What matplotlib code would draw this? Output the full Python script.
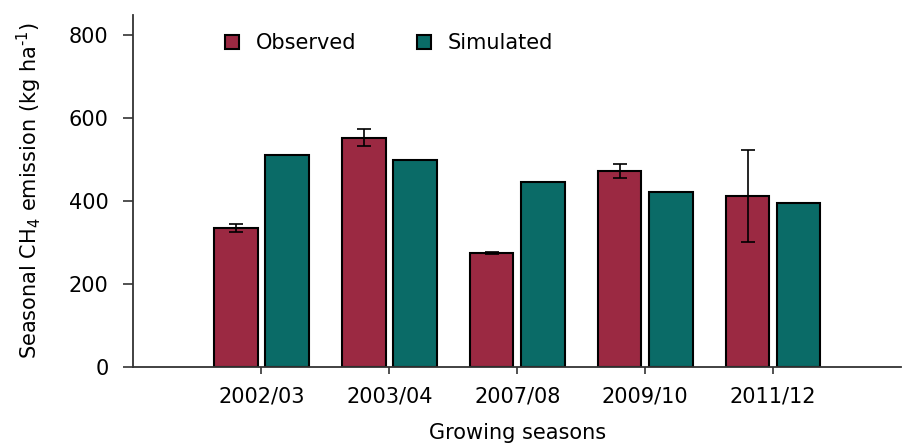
import matplotlib
matplotlib.use("Agg")
import matplotlib.pyplot as plt
import numpy as np

seasons = ["2002/03", "2003/04", "2007/08", "2009/10", "2011/12"]
observed = [334, 553, 274, 472, 412]
observed_err = [9.5, 20, 2, 17, 111]
simulated = [510, 499, 446, 422, 395]

obs_color = "#9b2942"
sim_color = "#0a6b67"

fig = plt.figure(figsize=(9.02, 4.46), dpi=100)
ax = fig.add_axes([0.148, 0.178, 0.851, 0.789])

x = np.arange(len(seasons))
w = 0.34
ax.bar(x - 0.2, observed, w, color=obs_color, edgecolor="black", linewidth=1.5,
       label="Observed", zorder=2)
ax.bar(x + 0.2, simulated, w, color=sim_color, edgecolor="black", linewidth=1.5,
       label="Simulated", zorder=2)
ax.errorbar(x - 0.2, observed, yerr=observed_err, fmt="none", ecolor="black",
            elinewidth=1.2, capsize=5.3, capthick=1.2, zorder=3)

ax.set_xlim(-1, 5)
ax.set_ylim(0, 850)
ax.set_yticks([0, 200, 400, 600, 800])
ax.set_xticks(x)
ax.set_xticklabels(seasons)
ax.tick_params(axis="y", labelsize=15, length=7, width=1.2, color="#333333", pad=11)
ax.tick_params(axis="x", labelsize=15, length=5, width=1.2, color="#333333", pad=9)
for s in ["top", "right"]:
    ax.spines[s].set_visible(False)
for s in ["left", "bottom"]:
    ax.spines[s].set_linewidth(1.3)
    ax.spines[s].set_color("#333333")

ax.set_ylabel(r"Seasonal CH$_4$ emission (kg ha$^{\text{-}1}$)", fontsize=15, labelpad=18)
ax.set_xlabel("Growing seasons", fontsize=15, labelpad=12)

ax.legend(loc="upper left", bbox_to_anchor=(0.095, 1.0), ncol=2, frameon=False,
          fontsize=15, handlelength=0.67, handleheight=0.67, columnspacing=2.9,
          handletextpad=0.8)

fig.savefig("out.png", dpi=100)
